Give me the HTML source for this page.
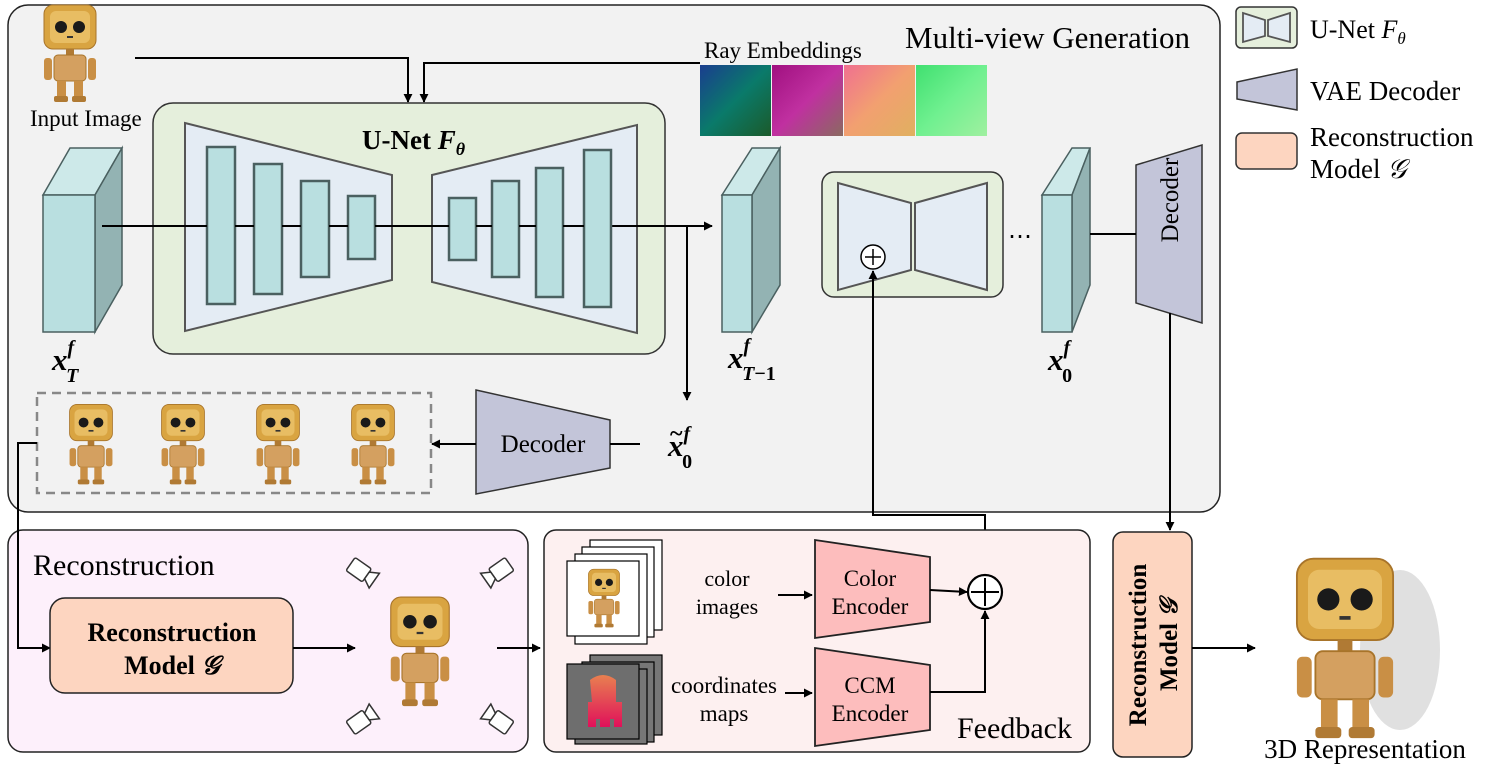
<!DOCTYPE html>
<html><head><meta charset="utf-8"><style>
html,body{margin:0;padding:0;background:#fff;}
svg{display:block;font-family:"Liberation Serif",serif;}
</style></head><body>
<svg width="1495" height="781" viewBox="0 0 1495 781" xmlns="http://www.w3.org/2000/svg">
<defs>
<marker id="ah" viewBox="0 0 10 10" refX="9" refY="5" markerWidth="9" markerHeight="9" markerUnits="userSpaceOnUse" orient="auto"><path d="M0,0 L10,5 L0,10 z" fill="#000"/></marker>
<symbol id="robot" viewBox="0 0 80 100">
<rect x="14" y="2" width="52" height="44" rx="9" fill="#d9a441" stroke="#a8742a"/>
<rect x="20" y="8" width="40" height="32" rx="6" fill="#e8bd63"/>
<circle cx="31" cy="24" r="6" fill="#1a1a1a"/><circle cx="49" cy="24" r="6" fill="#1a1a1a"/>
<rect x="37" y="33" width="6" height="2" fill="#333"/>
<rect x="36" y="46" width="8" height="6" fill="#b07a34"/>
<rect x="24" y="52" width="32" height="26" rx="4" fill="#d4a060" stroke="#a8742a"/>
<rect x="14" y="55" width="8" height="22" rx="3" fill="#c98f45"/><rect x="58" y="55" width="8" height="22" rx="3" fill="#c98f45"/>
<rect x="27" y="78" width="9" height="16" fill="#c98f45"/><rect x="44" y="78" width="9" height="16" fill="#c98f45"/>
<rect x="24" y="93" width="14" height="6" rx="2" fill="#b07a34"/><rect x="42" y="93" width="14" height="6" rx="2" fill="#b07a34"/>
</symbol>
<symbol id="cam" viewBox="0 0 40 40">
<g fill="#fff" stroke="#333" stroke-width="1.5"><rect x="6" y="12" width="20" height="16" rx="2"/><path d="M26,16 L35,11 L35,29 L26,24 z"/></g>
</symbol>
<linearGradient id="r1" x1="0" y1="0" x2="1" y2="1"><stop offset="0" stop-color="#1a3d8f"/><stop offset=".5" stop-color="#0a7a6a"/><stop offset="1" stop-color="#1b5a2a"/></linearGradient>
<linearGradient id="r2" x1="0" y1="0" x2="1" y2="1"><stop offset="0" stop-color="#a01080"/><stop offset=".5" stop-color="#c030a0"/><stop offset="1" stop-color="#8a6a60"/></linearGradient>
<linearGradient id="r3" x1="0" y1="0" x2="1" y2="1"><stop offset="0" stop-color="#f07090"/><stop offset=".5" stop-color="#f2a070"/><stop offset="1" stop-color="#e0b060"/></linearGradient>
<linearGradient id="r4" x1="0" y1="0" x2="1" y2="1"><stop offset="0" stop-color="#40e070"/><stop offset=".5" stop-color="#70f090"/><stop offset="1" stop-color="#a0f0a0"/></linearGradient>
<linearGradient id="ccm" x1="0" y1="0" x2="0" y2="1"><stop offset="0" stop-color="#e88050"/><stop offset="1" stop-color="#e0105a"/></linearGradient>
</defs>

<!-- main box -->
<rect x="8" y="5" width="1212" height="507" rx="20" fill="#f2f2f2" stroke="#222" stroke-width="1.5"/>
<text x="905" y="48" font-size="31">Multi-view Generation</text>

<!-- input image -->
<use href="#robot" x="28" y="3" width="84" height="100"/>
<text x="30" y="126" font-size="23">Input Image</text>

<!-- ray embeddings -->
<text x="704" y="58" font-size="23">Ray Embeddings</text>
<rect x="700" y="65" width="71" height="71" fill="url(#r1)"/>
<rect x="772" y="65" width="71" height="71" fill="url(#r2)"/>
<rect x="844" y="65" width="71" height="71" fill="url(#r3)"/>
<rect x="916" y="65" width="71" height="71" fill="url(#r4)"/>

<polyline points="135,58 408,58 408,102" fill="none" stroke="#000" stroke-width="2" marker-end="url(#ah)"/>
<polyline points="700,63 424,63 424,102" fill="none" stroke="#000" stroke-width="2" marker-end="url(#ah)"/>

<!-- U-Net box -->
<rect x="153" y="103" width="512" height="251" rx="20" fill="#e5efdc" stroke="#333" stroke-width="1.5"/>
<text x="362" y="149" font-size="27" font-weight="bold">U-Net <tspan font-style="italic">F</tspan><tspan font-style="italic" font-size="18" dy="6">θ</tspan></text>
<polygon points="185,123 392,175 392,280 185,331" fill="#e4ecf4" stroke="#555" stroke-width="2"/>
<polygon points="432,175 637,125 637,333 432,282" fill="#e4ecf4" stroke="#555" stroke-width="2"/>

<line x1="102" y1="226" x2="712" y2="226" stroke="#000" stroke-width="2" marker-end="url(#ah)"/>
<g fill="#b9dfe0" stroke="#4a6060" stroke-width="2.5">
<rect x="207" y="147" width="28" height="157"/>
<rect x="254" y="164" width="28" height="130"/>
<rect x="301" y="181" width="28" height="96"/>
<rect x="348" y="196" width="27" height="63"/>
<rect x="449" y="198" width="27" height="62"/>
<rect x="492" y="181" width="27" height="96"/>
<rect x="536" y="168" width="27" height="129"/>
<rect x="584" y="150" width="27" height="157"/>
</g>
<g stroke="#000" stroke-width="2"><line x1="235" y1="226" x2="254" y2="226"/><line x1="282" y1="226" x2="301" y2="226"/><line x1="329" y1="226" x2="348" y2="226"/><line x1="375" y1="226" x2="449" y2="226"/><line x1="476" y1="226" x2="492" y2="226"/><line x1="519" y1="226" x2="536" y2="226"/><line x1="563" y1="226" x2="584" y2="226"/></g>
<line x1="687" y1="226" x2="687" y2="400" stroke="#000" stroke-width="2" marker-end="url(#ah)"/>

<!-- slabs -->
<g stroke="#4a6060" stroke-width="1.5">
<polygon points="43,195 70,148 122,148 95,195" fill="#cde9e9"/>
<polygon points="95,195 122,148 122,285 95,332" fill="#93b3b3"/>
<rect x="43" y="195" width="52" height="137" fill="#b9dfe0"/>
<polygon points="722,195 752,148 780,148 752,195" fill="#cde9e9"/>
<polygon points="752,195 780,148 780,285 752,332" fill="#93b3b3"/>
<rect x="722" y="195" width="30" height="137" fill="#b9dfe0"/>
<polygon points="1042,195 1072,148 1090,148 1072,195" fill="#cde9e9"/>
<polygon points="1072,195 1090,148 1090,285 1072,332" fill="#93b3b3"/>
<rect x="1042" y="195" width="30" height="137" fill="#b9dfe0"/>
</g>
<line x1="102" y1="226" x2="207" y2="226" stroke="#000" stroke-width="2"/>
<text x="52" y="370" font-size="31" font-weight="bold" font-style="italic">x<tspan font-size="20" dy="-16">f</tspan><tspan font-size="20" dx="-8" dy="28">T</tspan></text>
<text x="728" y="368" font-size="31" font-weight="bold" font-style="italic">x<tspan font-size="20" dy="-16">f</tspan><tspan font-size="20" dx="-8" dy="28"><tspan font-style="italic">T</tspan><tspan font-style="normal">−1</tspan></tspan></text>
<text x="1048" y="370" font-size="31" font-weight="bold" font-style="italic">x<tspan font-size="20" dy="-16">f</tspan><tspan font-size="20" dx="-8" dy="28" font-style="normal">0</tspan></text>

<!-- small unet -->
<rect x="822" y="172" width="181" height="125" rx="12" fill="#e5efdc" stroke="#333" stroke-width="1.5"/>
<polygon points="838,183 911,203 911,270 838,290" fill="#e4ecf4" stroke="#555" stroke-width="2"/>
<polygon points="915,203 987,183 987,290 915,270" fill="#e4ecf4" stroke="#555" stroke-width="2"/>
<circle cx="873" cy="257" r="12" fill="#fff" stroke="#000" stroke-width="1.5"/>
<line x1="865" y1="257" x2="881" y2="257" stroke="#000" stroke-width="1.5"/><line x1="873" y1="249" x2="873" y2="265" stroke="#000" stroke-width="1.5"/>
<text x="1008" y="244" font-size="24">⋯</text>

<!-- right decoder -->
<polygon points="1136,165 1202,145 1202,323 1136,303" fill="#c3c5d9" stroke="#333" stroke-width="1.5"/>
<text transform="translate(1178,200) rotate(-90)" font-size="25" text-anchor="middle">Decoder</text>
<line x1="1090" y1="234" x2="1136" y2="234" stroke="#000" stroke-width="2"/>
<line x1="1170" y1="313" x2="1170" y2="530" stroke="#000" stroke-width="2" marker-end="url(#ah)"/>

<!-- dashed box -->
<rect x="37" y="393" width="394" height="100" fill="none" stroke="#888" stroke-width="2.5" stroke-dasharray="9,6"/>
<use href="#robot" x="58" y="400" width="66" height="88"/>
<use href="#robot" x="150" y="400" width="66" height="88"/>
<use href="#robot" x="245" y="400" width="66" height="88"/>
<use href="#robot" x="340" y="400" width="66" height="88"/>

<!-- lower decoder -->
<polygon points="476,390 610,420 610,468 476,494" fill="#c3c5d9" stroke="#333" stroke-width="1.5"/>
<text x="543" y="452" font-size="25" text-anchor="middle">Decoder</text>
<line x1="640" y1="444" x2="610" y2="444" stroke="#000" stroke-width="2"/>
<line x1="476" y1="444" x2="432" y2="444" stroke="#000" stroke-width="2" marker-end="url(#ah)"/>
<text x="668" y="456" font-size="31" font-weight="bold" font-style="italic">x<tspan font-size="20" dy="-16">f</tspan><tspan font-size="20" dx="-8" dy="28" font-style="normal">0</tspan></text>
<text x="670" y="441" font-size="24" font-weight="bold">~</text>

<!-- feedback line up -->
<polyline points="985,575 985,515 873,515 873,271" fill="none" stroke="#000" stroke-width="2" marker-end="url(#ah)"/>

<!-- reconstruction box -->
<rect x="8" y="530" width="520" height="222" rx="15" fill="#fdf0fb" stroke="#222" stroke-width="1.5"/>
<text x="33" y="575" font-size="30">Reconstruction</text>
<polyline points="37,443 18,443 18,648 50,648" fill="none" stroke="#000" stroke-width="2" marker-end="url(#ah)"/>
<rect x="50" y="598" width="243" height="95" rx="15" fill="#fdd5c0" stroke="#222" stroke-width="1.5"/>
<text x="172" y="641" font-size="26" font-weight="bold" text-anchor="middle">Reconstruction</text>
<text x="172" y="674" font-size="26" font-weight="bold" text-anchor="middle">Model <tspan font-style="italic">𝒢</tspan></text>
<line x1="293" y1="648" x2="355" y2="648" stroke="#000" stroke-width="2" marker-end="url(#ah)"/>
<use href="#robot" x="375" y="580" width="90" height="142"/>
<use href="#cam" x="342" y="552" width="40" height="40" transform="rotate(35 362 572)"/>
<use href="#cam" x="478" y="552" width="40" height="40" transform="rotate(145 498 572)"/>
<use href="#cam" x="342" y="700" width="40" height="40" transform="rotate(-35 362 720)"/>
<use href="#cam" x="478" y="700" width="40" height="40" transform="rotate(-145 498 720)"/>
<line x1="497" y1="648" x2="540" y2="648" stroke="#000" stroke-width="2" marker-end="url(#ah)"/>

<!-- feedback box -->
<rect x="544" y="530" width="546" height="222" rx="12" fill="#fdf0f0" stroke="#222" stroke-width="1.5"/>
<g stroke="#000" stroke-width="1.2">
<rect x="590" y="540" width="72" height="90" fill="#fff"/>
<rect x="582" y="547" width="72" height="90" fill="#fff"/>
<rect x="575" y="554" width="72" height="90" fill="#fff"/>
<rect x="567" y="561" width="72" height="75" fill="#fff"/>
<rect x="590" y="655" width="72" height="80" fill="#777"/>
<rect x="582" y="662" width="72" height="80" fill="#777"/>
<rect x="575" y="669" width="72" height="75" fill="#777"/>
<rect x="567" y="664" width="72" height="75" fill="#6e6e6e"/>
</g>
<use href="#robot" x="580" y="563" width="48" height="70"/>
<path d="M590,680 q13,-10 26,0 v22 h6 v25 h-8 v-8 h-4 v8 h-10 v-8 h-4 v8 h-8 v-25 h4 z" fill="url(#ccm)"/>
<text x="727" y="586" font-size="22" text-anchor="middle">color</text>
<text x="727" y="614" font-size="22" text-anchor="middle">images</text>
<text x="724" y="693" font-size="23" text-anchor="middle">coordinates</text>
<text x="724" y="721" font-size="23" text-anchor="middle">maps</text>
<line x1="778" y1="595" x2="812" y2="595" stroke="#000" stroke-width="2" marker-end="url(#ah)"/>
<line x1="785" y1="693" x2="812" y2="693" stroke="#000" stroke-width="2" marker-end="url(#ah)"/>
<polygon points="815,540 930,557 930,622 815,638" fill="#fdbdbd" stroke="#222" stroke-width="1.8"/>
<polygon points="815,648 930,665 930,730 815,746" fill="#fdbdbd" stroke="#222" stroke-width="1.8"/>
<text x="870" y="586" font-size="23" text-anchor="middle">Color</text>
<text x="870" y="614" font-size="23" text-anchor="middle">Encoder</text>
<text x="870" y="693" font-size="23" text-anchor="middle">CCM</text>
<text x="870" y="721" font-size="23" text-anchor="middle">Encoder</text>
<line x1="930" y1="590" x2="967" y2="592" stroke="#000" stroke-width="2" marker-end="url(#ah)"/>
<polyline points="930,692 985,692 985,611" fill="none" stroke="#000" stroke-width="2" marker-end="url(#ah)"/>
<circle cx="985" cy="592" r="17" fill="#fff" stroke="#000" stroke-width="2.2"/>
<line x1="971" y1="592" x2="999" y2="592" stroke="#000" stroke-width="2"/><line x1="985" y1="578" x2="985" y2="606" stroke="#000" stroke-width="2"/>
<text x="957" y="738" font-size="30">Feedback</text>

<!-- right reconstruction -->
<rect x="1113" y="532" width="79" height="225" rx="10" fill="#fdd5c0" stroke="#222" stroke-width="1.5"/>
<text transform="translate(1146,645) rotate(-90)" font-size="25" font-weight="bold" text-anchor="middle">Reconstruction</text>
<text transform="translate(1177,645) rotate(-90)" font-size="25" font-weight="bold" text-anchor="middle">Model <tspan font-style="italic">𝒢</tspan></text>
<line x1="1192" y1="648" x2="1255" y2="648" stroke="#000" stroke-width="2" marker-end="url(#ah)"/>
<ellipse cx="1400" cy="650" rx="40" ry="80" fill="#ccc" opacity="0.6"/>
<use href="#robot" x="1270" y="555" width="150" height="185"/>
<text x="1365" y="758" font-size="27" text-anchor="middle">3D Representation</text>

<!-- legend -->
<rect x="1236" y="7" width="61" height="41" rx="5" fill="#e5efdc" stroke="#333" stroke-width="1.5"/>
<polygon points="1243,13 1265,20 1265,36 1243,42" fill="#e4ecf4" stroke="#555" stroke-width="1.8"/>
<polygon points="1268,20 1290,13 1290,42 1268,36" fill="#e4ecf4" stroke="#555" stroke-width="1.8"/>
<text x="1310" y="38" font-size="26">U-Net <tspan font-style="italic">F</tspan><tspan font-style="italic" font-size="17" dy="6">θ</tspan></text>
<polygon points="1237,82 1297,69 1297,110 1237,99" fill="#c3c5d9" stroke="#333" stroke-width="1.5"/>
<text x="1310" y="100" font-size="27">VAE Decoder</text>
<rect x="1236" y="133" width="61" height="36" rx="6" fill="#fdd5c0" stroke="#333" stroke-width="1.5"/>
<text x="1310" y="146" font-size="27">Reconstruction</text>
<text x="1310" y="178" font-size="27">Model <tspan font-style="italic">𝒢</tspan></text>
</svg>
</body></html>
